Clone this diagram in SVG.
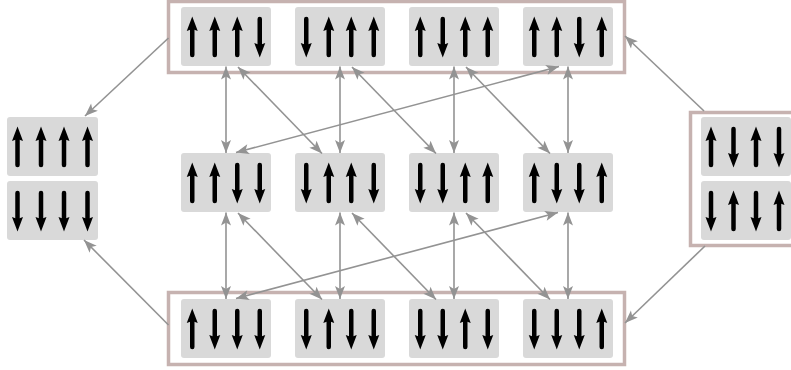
<svg xmlns="http://www.w3.org/2000/svg" xmlns:xlink="http://www.w3.org/1999/xlink" width="791" height="370" viewBox="0 0 791 370">
  <style>
    .box { fill: #ffffff; stroke: #c6b2b0; stroke-width: 3.5; }
    .cell { fill: #d9d9d9; }
    .edge { fill: none; stroke: #939393; stroke-width: 1.6; }
    .both { marker-start: url(#ah); marker-end: url(#ah); }
    .one { marker-end: url(#ah); }
  </style>
  <defs>
    <marker id="ah" viewBox="-15 -6 16 12" refX="0" refY="0" markerWidth="16" markerHeight="12" markerUnits="userSpaceOnUse" orient="auto-start-reverse">
      <path d="M0,0 L-13,-5 L-10,0 L-13,5 Z" fill="#939393"/>
    </marker>
    <g id="u">
      <path d="M0,-20.5 L5.5,-6 L0,-8 L-5.5,-6 Z" fill="#000"/>
      <line x1="0" y1="-9" x2="0" y2="18" stroke="#000" stroke-width="4.5" stroke-linecap="round"/>
    </g>
    <g id="d"><use href="#u" xlink:href="#u" transform="rotate(180)"/></g>
  </defs>

  <rect width="791" height="370" fill="#ffffff"/>

  <!-- group boxes -->
  <rect id="topBox" class="box" x="168.5" y="1.5" width="456" height="71"/>
  <rect id="botBox" class="box" x="168.5" y="292.5" width="456" height="72"/>
  <rect id="rightBox" class="box" x="690.5" y="112.5" width="120" height="133"/>

  <!-- top row -->
  <g id="top1" transform="translate(226,37)">
    <rect class="cell" x="-45" y="-30" width="90" height="59" rx="3"/>
    <use href="#u" x="-33.75"/><use href="#u" x="-11.25"/><use href="#u" x="11.25"/><use href="#d" x="33.75"/>
  </g>
  <g id="top2" transform="translate(340,37)">
    <rect class="cell" x="-45" y="-30" width="90" height="59" rx="3"/>
    <use href="#d" x="-33.75"/><use href="#u" x="-11.25"/><use href="#u" x="11.25"/><use href="#u" x="33.75"/>
  </g>
  <g id="top3" transform="translate(454,37)">
    <rect class="cell" x="-45" y="-30" width="90" height="59" rx="3"/>
    <use href="#u" x="-33.75"/><use href="#d" x="-11.25"/><use href="#u" x="11.25"/><use href="#u" x="33.75"/>
  </g>
  <g id="top4" transform="translate(568,37)">
    <rect class="cell" x="-45" y="-30" width="90" height="59" rx="3"/>
    <use href="#u" x="-33.75"/><use href="#u" x="-11.25"/><use href="#d" x="11.25"/><use href="#u" x="33.75"/>
  </g>

  <!-- middle row -->
  <g id="mid1" transform="translate(226,183)">
    <rect class="cell" x="-45" y="-30" width="90" height="59" rx="3"/>
    <use href="#u" x="-33.75"/><use href="#u" x="-11.25"/><use href="#d" x="11.25"/><use href="#d" x="33.75"/>
  </g>
  <g id="mid2" transform="translate(340,183)">
    <rect class="cell" x="-45" y="-30" width="90" height="59" rx="3"/>
    <use href="#d" x="-33.75"/><use href="#u" x="-11.25"/><use href="#u" x="11.25"/><use href="#d" x="33.75"/>
  </g>
  <g id="mid3" transform="translate(454,183)">
    <rect class="cell" x="-45" y="-30" width="90" height="59" rx="3"/>
    <use href="#d" x="-33.75"/><use href="#d" x="-11.25"/><use href="#u" x="11.25"/><use href="#u" x="33.75"/>
  </g>
  <g id="mid4" transform="translate(568,183)">
    <rect class="cell" x="-45" y="-30" width="90" height="59" rx="3"/>
    <use href="#u" x="-33.75"/><use href="#d" x="-11.25"/><use href="#d" x="11.25"/><use href="#u" x="33.75"/>
  </g>

  <!-- bottom row -->
  <g id="bot1" transform="translate(226,329)">
    <rect class="cell" x="-45" y="-30" width="90" height="59" rx="3"/>
    <use href="#u" x="-33.75"/><use href="#d" x="-11.25"/><use href="#d" x="11.25"/><use href="#d" x="33.75"/>
  </g>
  <g id="bot2" transform="translate(340,329)">
    <rect class="cell" x="-45" y="-30" width="90" height="59" rx="3"/>
    <use href="#d" x="-33.75"/><use href="#u" x="-11.25"/><use href="#d" x="11.25"/><use href="#d" x="33.75"/>
  </g>
  <g id="bot3" transform="translate(454,329)">
    <rect class="cell" x="-45" y="-30" width="90" height="59" rx="3"/>
    <use href="#d" x="-33.75"/><use href="#d" x="-11.25"/><use href="#u" x="11.25"/><use href="#d" x="33.75"/>
  </g>
  <g id="bot4" transform="translate(568,329)">
    <rect class="cell" x="-45" y="-30" width="90" height="59" rx="3"/>
    <use href="#d" x="-33.75"/><use href="#d" x="-11.25"/><use href="#d" x="11.25"/><use href="#u" x="33.75"/>
  </g>

  <!-- left pair -->
  <g id="left1" transform="translate(52.5,147)">
    <rect class="cell" x="-45.5" y="-30" width="91" height="59" rx="3"/>
    <use href="#u" x="-35"/><use href="#u" x="-11.5"/><use href="#u" x="11.5"/><use href="#u" x="35"/>
  </g>
  <g id="left2" transform="translate(52.5,211)">
    <rect class="cell" x="-45.5" y="-30" width="91" height="59" rx="3"/>
    <use href="#d" x="-35"/><use href="#d" x="-11.5"/><use href="#d" x="11.5"/><use href="#d" x="35"/>
  </g>

  <!-- right pair -->
  <g id="right1" transform="translate(745.5,147)">
    <rect class="cell" x="-44.5" y="-30" width="90" height="59" rx="3"/>
    <use href="#u" x="-34.5"/><use href="#d" x="-12"/><use href="#u" x="10.5"/><use href="#d" x="33.5"/>
  </g>
  <g id="right2" transform="translate(745.5,211)">
    <rect class="cell" x="-44.5" y="-30" width="90" height="59" rx="3"/>
    <use href="#d" x="-34.5"/><use href="#u" x="-12"/><use href="#d" x="10.5"/><use href="#u" x="33.5"/>
  </g>

  <!-- connectors -->
  <g id="connectors">
    <line class="edge both" x1="226" y1="66.5" x2="226" y2="153"/>
    <line class="edge both" x1="340" y1="66.5" x2="340" y2="153"/>
    <line class="edge both" x1="454" y1="66.5" x2="454" y2="153"/>
    <line class="edge both" x1="568" y1="66.5" x2="568" y2="153"/>
    <line class="edge both" x1="238" y1="67" x2="322" y2="153.5"/>
    <line class="edge both" x1="352" y1="67" x2="436" y2="153.5"/>
    <line class="edge both" x1="466" y1="67" x2="550" y2="153.5"/>
    <line class="edge both" x1="559" y1="66.5" x2="236" y2="152.5"/>

    <line class="edge both" x1="226" y1="212.5" x2="226" y2="299"/>
    <line class="edge both" x1="340" y1="212.5" x2="340" y2="299"/>
    <line class="edge both" x1="454" y1="212.5" x2="454" y2="299"/>
    <line class="edge both" x1="568" y1="212.5" x2="568" y2="299"/>
    <line class="edge both" x1="238" y1="213" x2="322" y2="299.5"/>
    <line class="edge both" x1="352" y1="213" x2="436" y2="299.5"/>
    <line class="edge both" x1="466" y1="213" x2="550" y2="299.5"/>
    <line class="edge both" x1="558" y1="212.5" x2="236" y2="298.5"/>

    <line class="edge one" x1="168.5" y1="38" x2="85" y2="116"/>
    <line class="edge one" x1="168.5" y1="325" x2="84" y2="240"/>
    <line class="edge one" x1="704" y1="111" x2="625" y2="36"/>
    <line class="edge one" x1="705" y1="246" x2="625" y2="323"/>
  </g>
</svg>
